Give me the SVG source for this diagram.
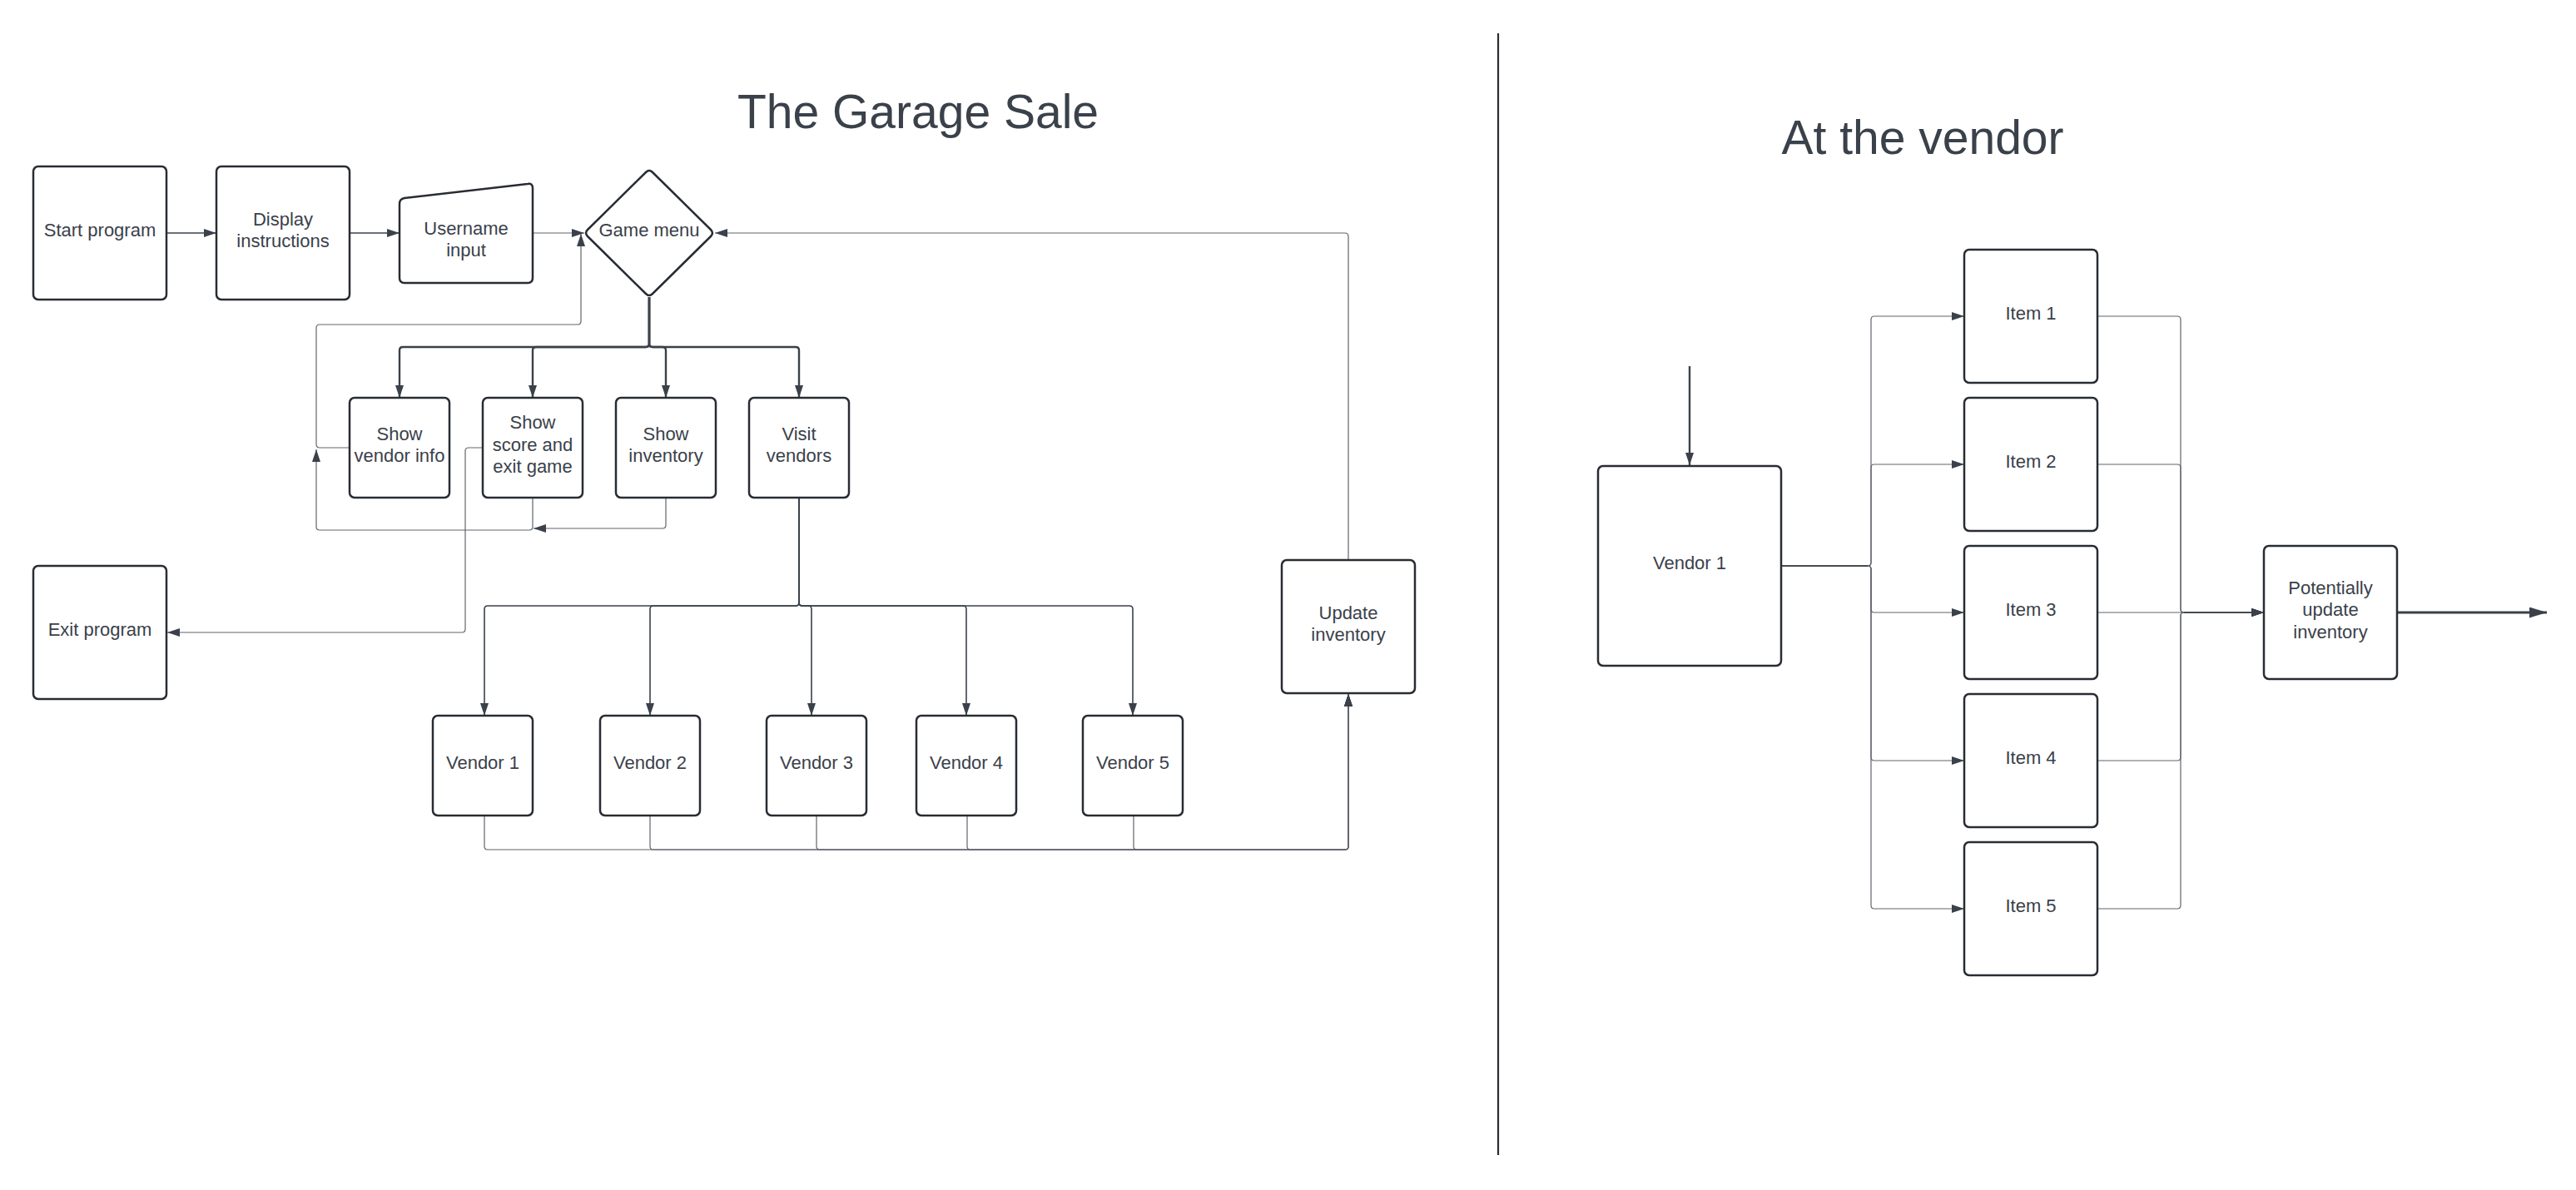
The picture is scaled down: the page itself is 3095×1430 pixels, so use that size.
<svg xmlns="http://www.w3.org/2000/svg" width="3095" height="1430" viewBox="0 0 3095 1430">
<style>
.node{fill:#ffffff;stroke:#282c33;stroke-width:2.5;stroke-linejoin:round}
.lbl{font-family:"Liberation Sans",Arial,sans-serif;font-size:22px;fill:#3a414a;text-anchor:middle}
.title{font-family:"Liberation Sans",Arial,sans-serif;font-size:57px;fill:#3a414a;text-anchor:middle}
.c{fill:none;stroke:#3a414a;stroke-linejoin:round}
.thin{stroke-width:1.2;stroke:#60656d}
.mid{stroke-width:1.6}
.thick{stroke-width:2.4}
.heavy{stroke-width:3.2}
</style>
<defs>
<marker id="arr" viewBox="0 0 15 10" markerWidth="15" markerHeight="10" refX="15" refY="5" orient="auto" markerUnits="userSpaceOnUse">
<path d="M0,0 L15,5 L0,10 Z" fill="#3a414a"/>
</marker>
<marker id="arrbig" viewBox="0 0 21 13" markerWidth="21" markerHeight="13" refX="21" refY="6.5" orient="auto" markerUnits="userSpaceOnUse">
<path d="M0,0 L21,6.5 L0,13 Z" fill="#3a414a"/>
</marker>
</defs>
<rect width="3095" height="1430" fill="#ffffff"/>

<g id="titles">
<text class="title" x="1103" y="154">The Garage Sale</text>
<text class="title" x="2310" y="185">At the vendor</text>
</g>
<g id="divider">
<line x1="1800" y1="40" x2="1800" y2="1388" stroke="#282c33" stroke-width="2.2"/>
</g>

<g id="connectors">
<path class="c mid" d="M200,280 H260" marker-end="url(#arr)"/>
<path class="c mid" d="M420,280 H480" marker-end="url(#arr)"/>
<path class="c thin" d="M640,280 H702" marker-end="url(#arr)"/>
<path class="c thick" d="M780,357 V413 Q780,417 776,417 H484 Q480,417 480,421 V478" marker-end="url(#arr)"/>
<path class="c thick" d="M780,357 V413 Q780,417 776,417 H644 Q640,417 640,421 V478" marker-end="url(#arr)"/>
<path class="c thick" d="M780,357 V413 Q780,417 784,417 H796 Q800,417 800,421 V478" marker-end="url(#arr)"/>
<path class="c thick" d="M780,357 V413 Q780,417 784,417 H956 Q960,417 960,421 V478" marker-end="url(#arr)"/>
<path class="c thin" d="M420,538 H384 Q380,538 380,534 V394 Q380,390 384,390 H694 Q698,390 698,386 V281" marker-end="url(#arr)"/>
<path class="c thin" d="M640,598 V633 Q640,637 636,637 H384 Q380,637 380,633 V540" marker-end="url(#arr)"/>
<path class="c thin" d="M800,598 V631 Q800,635 796,635 H641" marker-end="url(#arr)"/>
<path class="c thin" d="M580,538 H563 Q559,538 559,542 V756 Q559,760 555,760 H201" marker-end="url(#arr)"/>
<path class="c mid" d="M960,598 V724 Q960,728 956,728 H586 Q582,728 582,732 V860" marker-end="url(#arr)"/>
<path class="c mid" d="M960,598 V724 Q960,728 956,728 H785 Q781,728 781,732 V860" marker-end="url(#arr)"/>
<path class="c mid" d="M960,598 V724 Q960,728 964,728 H971 Q975,728 975,732 V860" marker-end="url(#arr)"/>
<path class="c mid" d="M960,598 V724 Q960,728 964,728 H1157 Q1161,728 1161,732 V860" marker-end="url(#arr)"/>
<path class="c mid" d="M960,598 V724 Q960,728 964,728 H1357 Q1361,728 1361,732 V860" marker-end="url(#arr)"/>
<path class="c thin" d="M582,980 V1017 Q582,1021 586,1021 H1616 Q1620,1021 1620,1017 V834" marker-end="url(#arr)"/>
<path class="c thin" d="M781,980 V1017 Q781,1021 785,1021 H1616 Q1620,1021 1620,1017 V834" marker-end="url(#arr)"/>
<path class="c thin" d="M981,980 V1017 Q981,1021 985,1021 H1616 Q1620,1021 1620,1017 V834" marker-end="url(#arr)"/>
<path class="c thin" d="M1162,980 V1017 Q1162,1021 1166,1021 H1616 Q1620,1021 1620,1017 V834" marker-end="url(#arr)"/>
<path class="c thin" d="M1362,980 V1017 Q1362,1021 1366,1021 H1616 Q1620,1021 1620,1017 V834" marker-end="url(#arr)"/>
<path class="c thin" d="M1620,673 V284 Q1620,280 1616,280 H859" marker-end="url(#arr)"/>

<path class="c thick" d="M2030,440 V559" marker-end="url(#arr)"/>
<path class="c thin" d="M2140,680 H2244 Q2248,680 2248,676 V384 Q2248,380 2252,380 H2360" marker-end="url(#arr)"/>
<path class="c thin" d="M2140,680 H2244 Q2248,680 2248,676 V562 Q2248,558 2252,558 H2360" marker-end="url(#arr)"/>
<path class="c thin" d="M2140,680 H2244 Q2248,680 2248,684 V732 Q2248,736 2252,736 H2360" marker-end="url(#arr)"/>
<path class="c thin" d="M2140,680 H2244 Q2248,680 2248,684 V910 Q2248,914 2252,914 H2360" marker-end="url(#arr)"/>
<path class="c thin" d="M2140,680 H2244 Q2248,680 2248,684 V1088 Q2248,1092 2252,1092 H2360" marker-end="url(#arr)"/>
<path class="c mid" d="M2140,680 H2244"/>
<path class="c thin" d="M2520,380 H2616 Q2620,380 2620,384 V732 Q2620,736 2624,736 H2720" marker-end="url(#arr)"/>
<path class="c thin" d="M2520,558 H2616 Q2620,558 2620,562 V732 Q2620,736 2624,736 H2720" marker-end="url(#arr)"/>
<path class="c thin" d="M2520,736 H2720" marker-end="url(#arr)"/>
<path class="c thin" d="M2520,914 H2616 Q2620,914 2620,910 V740 Q2620,736 2624,736 H2720" marker-end="url(#arr)"/>
<path class="c thin" d="M2520,1092 H2616 Q2620,1092 2620,1088 V740 Q2620,736 2624,736 H2720" marker-end="url(#arr)"/>
<path class="c mid" d="M2624,736 H2705"/>
<path class="c heavy" d="M2880,736 H3060" marker-end="url(#arrbig)"/>
</g>

<g id="start-program">
<rect class="node" x="40" y="200" width="160" height="160" rx="6"/>
<text class="lbl" x="120" y="284">Start program</text>
</g>
<g id="display-instructions">
<rect class="node" x="260" y="200" width="160" height="160" rx="6"/>
<text class="lbl" x="340" y="271">Display</text>
<text class="lbl" x="340" y="297">instructions</text>
</g>
<g id="username-input">
<path class="node" d="M486,238 L634,221 Q640,220 640,226 L640,334 Q640,340 634,340 L486,340 Q480,340 480,334 L480,245 Q480,239 486,238 Z"/>
<text class="lbl" x="560" y="282">Username</text>
<text class="lbl" x="560" y="308">input</text>
</g>
<g id="game-menu">
<path class="node" d="M776,207 Q780,203 784,207 L854,276 Q858,280 854,284 L784,353 Q780,357 776,353 L706,284 Q702,280 706,276 Z"/>
<text class="lbl" x="780" y="284">Game menu</text>
</g>
<g id="show-vendor-info">
<rect class="node" x="420" y="478" width="120" height="120" rx="6"/>
<text class="lbl" x="480" y="529">Show</text>
<text class="lbl" x="480" y="555">vendor info</text>
</g>
<g id="show-score">
<rect class="node" x="580" y="478" width="120" height="120" rx="6"/>
<text class="lbl" x="640" y="515">Show</text>
<text class="lbl" x="640" y="542">score and</text>
<text class="lbl" x="640" y="568">exit game</text>
</g>
<g id="show-inventory">
<rect class="node" x="740" y="478" width="120" height="120" rx="6"/>
<text class="lbl" x="800" y="529">Show</text>
<text class="lbl" x="800" y="555">inventory</text>
</g>
<g id="visit-vendors">
<rect class="node" x="900" y="478" width="120" height="120" rx="6"/>
<text class="lbl" x="960" y="529">Visit</text>
<text class="lbl" x="960" y="555">vendors</text>
</g>
<g id="exit-program">
<rect class="node" x="40" y="680" width="160" height="160" rx="6"/>
<text class="lbl" x="120" y="764">Exit program</text>
</g>
<g id="vendor-1">
<rect class="node" x="520" y="860" width="120" height="120" rx="6"/>
<text class="lbl" x="580" y="924">Vendor 1</text>
</g>
<g id="vendor-2">
<rect class="node" x="721" y="860" width="120" height="120" rx="6"/>
<text class="lbl" x="781" y="924">Vendor 2</text>
</g>
<g id="vendor-3">
<rect class="node" x="921" y="860" width="120" height="120" rx="6"/>
<text class="lbl" x="981" y="924">Vendor 3</text>
</g>
<g id="vendor-4">
<rect class="node" x="1101" y="860" width="120" height="120" rx="6"/>
<text class="lbl" x="1161" y="924">Vendor 4</text>
</g>
<g id="vendor-5">
<rect class="node" x="1301" y="860" width="120" height="120" rx="6"/>
<text class="lbl" x="1361" y="924">Vendor 5</text>
</g>
<g id="update-inventory">
<rect class="node" x="1540" y="673" width="160" height="160" rx="6"/>
<text class="lbl" x="1620" y="744">Update</text>
<text class="lbl" x="1620" y="770">inventory</text>
</g>

<g id="av-vendor-1">
<rect class="node" x="1920" y="560" width="220" height="240" rx="6"/>
<text class="lbl" x="2030" y="684">Vendor 1</text>
</g>
<g id="item-1">
<rect class="node" x="2360" y="300" width="160" height="160" rx="6"/>
<text class="lbl" x="2440" y="384">Item 1</text>
</g>
<g id="item-2">
<rect class="node" x="2360" y="478" width="160" height="160" rx="6"/>
<text class="lbl" x="2440" y="562">Item 2</text>
</g>
<g id="item-3">
<rect class="node" x="2360" y="656" width="160" height="160" rx="6"/>
<text class="lbl" x="2440" y="740">Item 3</text>
</g>
<g id="item-4">
<rect class="node" x="2360" y="834" width="160" height="160" rx="6"/>
<text class="lbl" x="2440" y="918">Item 4</text>
</g>
<g id="item-5">
<rect class="node" x="2360" y="1012" width="160" height="160" rx="6"/>
<text class="lbl" x="2440" y="1096">Item 5</text>
</g>
<g id="potentially-update-inventory">
<rect class="node" x="2720" y="656" width="160" height="160" rx="6"/>
<text class="lbl" x="2800" y="714">Potentially</text>
<text class="lbl" x="2800" y="740">update</text>
<text class="lbl" x="2800" y="767">inventory</text>
</g>
</svg>
